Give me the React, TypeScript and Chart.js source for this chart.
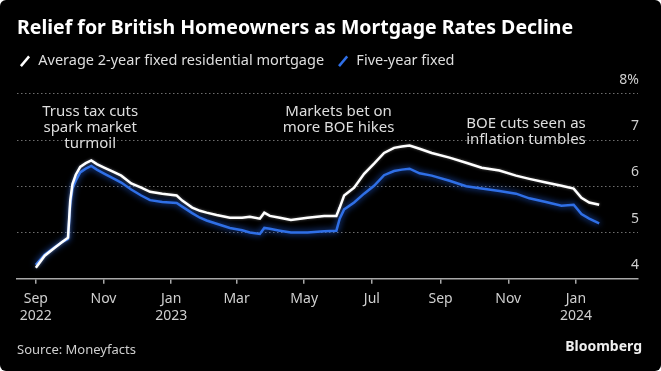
import React, { useEffect, useRef } from 'react';
import { Chart, registerables } from 'chart.js';

Chart.register(...registerables);

// ---------- DATA ----------
const dates = [
  '2022-09-01', '2022-09-09', '2022-09-18', '2022-09-25', '2022-09-30',
  '2022-10-02', '2022-10-04', '2022-10-07', '2022-10-11', '2022-10-16', '2022-10-21', '2022-10-26',
  '2022-11-02', '2022-11-09', '2022-11-17', '2022-11-26',
  '2022-12-05', '2022-12-13', '2022-12-24',
  '2023-01-06', '2023-01-11', '2023-01-20', '2023-01-27',
  '2023-02-02', '2023-02-11', '2023-02-23',
  '2023-03-06', '2023-03-13', '2023-03-22', '2023-03-26', '2023-03-31',
  '2023-04-09', '2023-04-19',
  '2023-05-04', '2023-05-19', '2023-05-30',
  '2023-06-02', '2023-06-06', '2023-06-15', '2023-06-24',
  '2023-07-03', '2023-07-12', '2023-07-21', '2023-07-28',
  '2023-08-04', '2023-08-13', '2023-08-24',
  '2023-09-09', '2023-09-24',
  '2023-10-08', '2023-10-24',
  '2023-11-08', '2023-11-20',
  '2023-12-05', '2023-12-19', '2023-12-30',
  '2024-01-06', '2024-01-13', '2024-01-22',
];

const twoYearFixed = [
  4.24, 4.50, 4.67, 4.80, 4.89,
  5.69, 6.05, 6.25, 6.42, 6.50, 6.56, 6.48,
  6.40, 6.32, 6.23, 6.06,
  5.97, 5.88, 5.84,
  5.80, 5.69, 5.54, 5.47,
  5.43, 5.38, 5.32,
  5.32, 5.34, 5.30, 5.43, 5.36,
  5.32, 5.27,
  5.32, 5.36, 5.36,
  5.54, 5.80, 5.97, 6.27,
  6.49, 6.72, 6.83, 6.86,
  6.88, 6.81, 6.72,
  6.62, 6.51,
  6.40, 6.34,
  6.23, 6.16,
  6.08, 6.01, 5.95,
  5.75, 5.65, 5.60,
];

const fiveYearFixed = [
  4.30, 4.52, 4.68, 4.80, 4.86,
  5.60, 5.95, 6.12, 6.30, 6.38, 6.44, 6.36,
  6.27, 6.18, 6.08, 5.93,
  5.80, 5.70, 5.66,
  5.64, 5.56, 5.42, 5.32,
  5.26, 5.19, 5.10,
  5.05, 5.00, 4.97, 5.10, 5.08,
  5.04, 5.00,
  5.00, 5.03, 5.04,
  5.30, 5.50, 5.65, 5.84,
  6.01, 6.24, 6.33, 6.36,
  6.38, 6.28, 6.23,
  6.12, 6.00,
  5.95, 5.90,
  5.84, 5.74,
  5.66, 5.58, 5.60,
  5.40, 5.30, 5.20,
];

const seriesLabels = ['Average 2-year fixed residential mortgage', 'Five-year fixed'];
const xTickDates = [
  '2022-09-01', '2022-11-01', '2023-01-01', '2023-03-01', '2023-05-01',
  '2023-07-01', '2023-09-01', '2023-11-01', '2024-01-01',
];
const yTicks = [4, 5, 6, 7, 8];
const monthNames = ['Jan', 'Feb', 'Mar', 'Apr', 'May', 'Jun', 'Jul', 'Aug', 'Sep', 'Oct', 'Nov', 'Dec'];

const annotations = [
  { date: '2022-10-20', value: 7.61, lines: ['Truss tax cuts', 'spark market', 'turmoil'] },
  { date: '2023-06-01', value: 7.61, lines: ['Markets bet on', 'more BOE hikes'] },
  { date: '2023-11-17', value: 7.35, lines: ['BOE cuts seen as', 'inflation tumbles'] },
];

const titleText = 'Relief for British Homeowners as Mortgage Rates Decline';
const sourceText = 'Source: Moneyfacts';
const brandText = 'Bloomberg';

// ---------- HELPERS ----------
const FONT = '"Noto Sans", "DejaVu Sans", sans-serif';
const toMs = (s: string) => Date.parse(s + 'T00:00:00Z');

const glowPlugin = {
  id: 'glow',
  beforeDatasetDraw(chart: any, args: any) {
    const ds = chart.data.datasets[args.index];
    chart.ctx.save();
    chart.ctx.shadowColor = ds.glowColor;
    chart.ctx.shadowBlur = ds.glowBlur;
  },
  afterDatasetDraw(chart: any) {
    chart.ctx.restore();
  },
};

const notesPlugin = {
  id: 'notes',
  afterDraw(chart: any) {
    const { ctx, scales } = chart;
    const xs = scales.x;
    const ys = scales.y;
    ctx.save();
    ctx.font = `15px ${FONT}`;
    ctx.fillStyle = '#dedede';
    ctx.textAlign = 'center';
    ctx.textBaseline = 'middle';
    annotations.forEach((a) => {
      const px = xs.getPixelForValue(toMs(a.date));
      const py = ys.getPixelForValue(a.value);
      a.lines.forEach((l, i) => ctx.fillText(l, px, py + i * 16));
    });
    ctx.font = `bold 14px ${FONT}`;
    ctx.textAlign = 'right';
    ctx.fillStyle = '#eeeeee';
    ctx.fillText(brandText, chart.width - 19, 347);
    ctx.restore();
  },
};

export default function App() {
  const canvasRef = useRef<HTMLCanvasElement | null>(null);

  useEffect(() => {
    document.body.style.margin = '0';
    document.body.style.background = '#ffffff';
    const canvas = canvasRef.current;
    if (!canvas) return;

    const chart = new Chart(canvas, {
      type: 'line',
      data: {
        datasets: [
          {
            label: seriesLabels[0],
            data: dates.map((d, i) => ({ x: toMs(d), y: twoYearFixed[i] })),
            borderColor: '#ffffff',
            borderWidth: 2.5,
            pointRadius: 0,
            tension: 0,
            glowColor: 'rgba(255,255,255,0.35)',
            glowBlur: 3,
          } as any,
          {
            label: seriesLabels[1],
            data: dates.map((d, i) => ({ x: toMs(d), y: fiveYearFixed[i] })),
            borderColor: '#2f6fe6',
            borderWidth: 2.5,
            pointRadius: 0,
            tension: 0,
            glowColor: 'rgba(40,110,255,0.9)',
            glowBlur: 6,
          } as any,
        ],
      },
      options: {
        responsive: false,
        animation: false,
        events: [],
        layout: { padding: { left: 17, right: 21, top: 0, bottom: 0 } },
        scales: {
          x: {
            type: 'linear',
            min: toMs('2022-08-15'),
            max: toMs('2024-02-26'),
            afterBuildTicks: (s: any) => {
              s.ticks = xTickDates.map((d) => ({ value: toMs(d) }));
            },
            grid: { drawOnChartArea: false, drawTicks: true, tickLength: 5, color: '#a8a8a8', lineWidth: 1.5 },
            border: { display: true, color: '#a8a8a8', width: 1.5 },
            ticks: {
              padding: 7,
              color: '#cfcfcf',
              autoSkip: false,
              maxRotation: 0,
              font: { family: FONT, size: 14, lineHeight: 1.2 },
              callback: (v: any, i: number) => {
                const d = new Date(v);
                const m = monthNames[d.getUTCMonth()];
                return i === 0 || d.getUTCMonth() === 0 ? [m, String(d.getUTCFullYear())] : m;
              },
            },
          },
          y: {
            position: 'right',
            min: 4,
            max: 8.33,
            afterBuildTicks: (s: any) => {
              s.ticks = yTicks.map((v) => ({ value: v }));
            },
            grid: { color: '#6e6e6e', lineWidth: 1, drawTicks: false },
            border: { display: false, dash: [1.5, 2.5] },
            ticks: {
              mirror: true,
              padding: 1,
              labelOffset: -14,
              color: '#cfcfcf',
              font: { family: FONT, size: 14 },
              callback: (v: any) => (v === 8 ? '8%' : String(v)),
            },
          },
        },
        plugins: {
          tooltip: { enabled: false },
          title: {
            display: true,
            text: titleText,
            align: 'start',
            color: '#ffffff',
            font: { family: FONT, size: 19.5, weight: 'bold', lineHeight: 1.2 },
            padding: { top: 17, bottom: 11.6 },
          },
          subtitle: {
            display: true,
            position: 'bottom',
            text: sourceText,
            align: 'start',
            color: '#cfcfcf',
            font: { family: FONT, size: 13, lineHeight: 1.2 },
            padding: { top: 11, bottom: 13 },
          },
          legend: {
            display: true,
            align: 'start',
            labels: {
              usePointStyle: true,
              boxWidth: 12,
              boxHeight: 9,
              padding: 2,
              color: '#dedede',
              font: { family: FONT, size: 14.5 },
              generateLabels: (c: any) =>
                c.data.datasets.map((ds: any, i: number) => ({
                  // trailing spaces widen the gap between the two legend entries
                  text: i < c.data.datasets.length - 1 ? ds.label + '\u2002 ' : ds.label,
                  strokeStyle: ds.borderColor,
                  fillStyle: ds.borderColor,
                  fontColor: '#dedede',
                  lineWidth: 2.5,
                  pointStyle: 'line',
                  rotation: -50,
                  datasetIndex: i,
                  hidden: false,
                })),
            },
          },
        },
      } as any,
      plugins: [glowPlugin, notesPlugin],
    });

    return () => chart.destroy();
  }, []);

  return (
    <div
      style={{
        position: 'absolute',
        left: 0,
        top: 0,
        width: 661,
        height: 371,
        background: '#000000',
        borderRadius: 6,
        overflow: 'hidden',
      }}
    >
      <canvas ref={canvasRef} width={661} height={371} style={{ display: 'block' }} />
    </div>
  );
}
